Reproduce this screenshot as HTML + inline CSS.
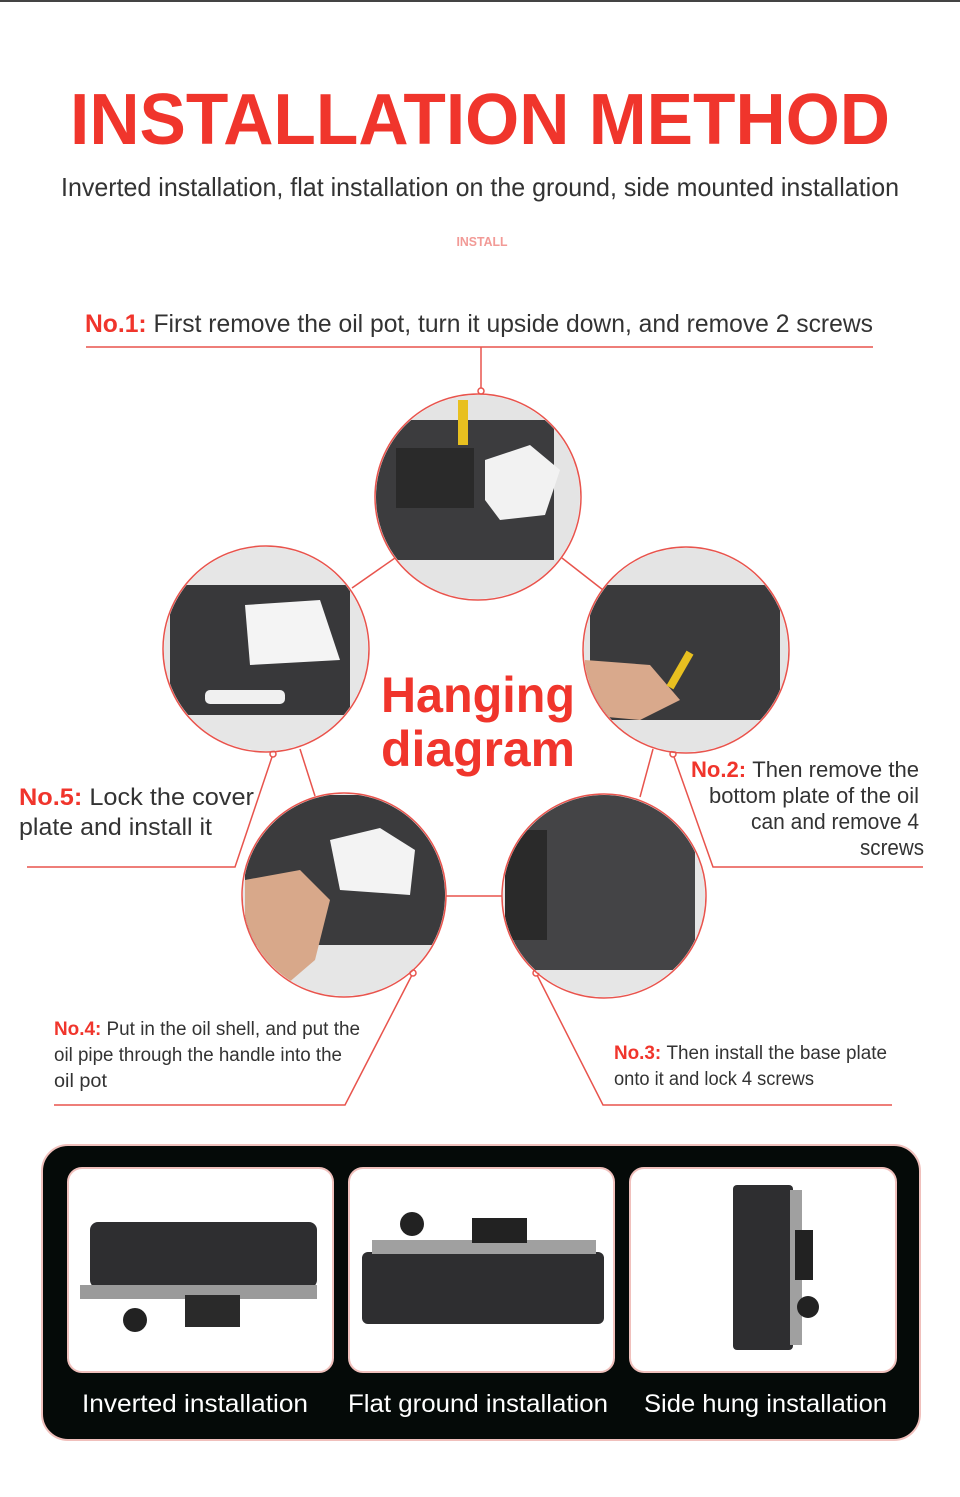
<!DOCTYPE html>
<html><head><meta charset="utf-8"><style>
html,body{margin:0;padding:0;background:#fff;}
svg{display:block;}
text{font-family:"Liberation Sans Narrow","Liberation Sans",sans-serif;}
</style></head><body>
<svg width="960" height="1497" viewBox="0 0 960 1497" xmlns="http://www.w3.org/2000/svg">
<defs>
<clipPath id="c1"><circle cx="478" cy="497" r="102"/></clipPath>
<clipPath id="c2"><circle cx="266" cy="649" r="102"/></clipPath>
<clipPath id="c3"><circle cx="686" cy="650" r="102"/></clipPath>
<clipPath id="c4"><circle cx="344" cy="895" r="101"/></clipPath>
<clipPath id="c5"><circle cx="604" cy="896" r="101"/></clipPath>
</defs>
<rect x="0" y="0" width="960" height="2" fill="#444"/>
<text x="480" y="144" text-anchor="middle" font-size="72" font-weight="bold" fill="#f0352c" textLength="820" lengthAdjust="spacingAndGlyphs">INSTALLATION METHOD</text>
<text x="480" y="196" text-anchor="middle" font-size="26" fill="#333" textLength="838" lengthAdjust="spacingAndGlyphs">Inverted installation, flat installation on the ground, side mounted installation</text>
<text x="482" y="246" text-anchor="middle" font-size="13" font-weight="bold" fill="#f29a96" textLength="51" lengthAdjust="spacingAndGlyphs">INSTALL</text>
<text x="85" y="332" font-size="25" fill="#333" textLength="788" lengthAdjust="spacingAndGlyphs"><tspan fill="#f0352c" font-weight="bold">No.1: </tspan>First remove the oil pot, turn it upside down, and remove 2 screws</text>
<g stroke="#e8544d" stroke-width="1.5" fill="none">
<line x1="86" y1="347" x2="873" y2="347"/>
<line x1="481" y1="347" x2="481" y2="391"/>
<line x1="395" y1="558" x2="352" y2="588"/>
<line x1="562" y1="558" x2="603" y2="590"/>
<line x1="300" y1="749" x2="315" y2="796"/>
<line x1="653" y1="749" x2="640" y2="797"/>
<line x1="446" y1="896" x2="502" y2="896"/>
<polyline points="27,867 235,867 273,754"/>
<polyline points="673,754 713,867 923,867"/>
<polyline points="413,973 345,1105 54,1105"/>
<polyline points="536,973 603,1105 892,1105"/>
</g>
<g fill="#fff" stroke="#e8544d" stroke-width="1.5">
<circle cx="481" cy="391" r="3"/><circle cx="273" cy="754" r="3"/><circle cx="673" cy="754" r="3"/><circle cx="413" cy="973" r="3"/><circle cx="536" cy="973" r="3"/>
</g>
<!-- circle photos -->
<g clip-path="url(#c1)"><rect x="370" y="390" width="220" height="220" fill="#e4e4e4"/><rect x="376" y="420" width="178" height="140" fill="#3c3c3e"/><rect x="396" y="448" width="78" height="60" fill="#2a2a2a"/><path d="M485 460 L530 445 L560 470 L545 515 L500 520 L485 500Z" fill="#f2f2f2"/><rect x="458" y="400" width="10" height="45" fill="#e8c020"/></g>
<circle cx="478" cy="497" r="103" fill="none" stroke="#e8544d" stroke-width="1.5"/>
<g clip-path="url(#c2)"><rect x="160" y="540" width="215" height="220" fill="#e6e6e6"/><rect x="170" y="585" width="180" height="130" fill="#38383a"/><path d="M245 605 L320 600 L340 660 L250 665Z" fill="#f4f4f4"/><rect x="205" y="690" width="80" height="14" rx="5" fill="#f0f0f0"/></g>
<circle cx="266" cy="649" r="103" fill="none" stroke="#e8544d" stroke-width="1.5"/>
<g clip-path="url(#c3)"><rect x="580" y="545" width="215" height="215" fill="#e4e4e4"/><rect x="590" y="585" width="190" height="135" fill="#3a3a3c"/><path d="M585 660 L650 665 L680 700 L640 720 L585 715Z" fill="#d9a98c"/><rect x="676" y="650" width="8" height="40" fill="#e8c020" transform="rotate(30 680 670)"/></g>
<circle cx="686" cy="650" r="103" fill="none" stroke="#e8544d" stroke-width="1.5"/>
<g clip-path="url(#c4)"><rect x="240" y="790" width="210" height="210" fill="#e6e6e6"/><rect x="245" y="795" width="200" height="150" fill="#3b3b3d"/><path d="M330 840 L380 828 L415 850 L410 895 L340 890Z" fill="#f3f3f3"/><path d="M245 880 L300 870 L330 900 L315 960 L280 990 L245 970Z" fill="#d8a88a"/></g>
<circle cx="344" cy="895" r="102" fill="none" stroke="#e8544d" stroke-width="1.5"/>
<g clip-path="url(#c5)"><rect x="500" y="790" width="210" height="210" fill="#e6e6e6"/><rect x="505" y="795" width="190" height="175" fill="#444446"/><rect x="505" y="830" width="42" height="110" fill="#2a2a2a"/></g>
<circle cx="604" cy="896" r="102" fill="none" stroke="#e8544d" stroke-width="1.5"/>
<text x="478" y="712" text-anchor="middle" font-size="50" font-weight="bold" fill="#f0352c" textLength="194" lengthAdjust="spacingAndGlyphs">Hanging</text>
<text x="478" y="766" text-anchor="middle" font-size="50" font-weight="bold" fill="#f0352c" textLength="194" lengthAdjust="spacingAndGlyphs">diagram</text>
<g font-size="24" fill="#333">
<text x="19" y="805" textLength="235" lengthAdjust="spacingAndGlyphs"><tspan fill="#f0352c" font-weight="bold">No.5: </tspan>Lock the cover</text>
<text x="19" y="835" textLength="193" lengthAdjust="spacingAndGlyphs">plate and install it</text>
<text x="919" y="777" text-anchor="end" font-size="22" textLength="228" lengthAdjust="spacingAndGlyphs"><tspan fill="#f0352c" font-weight="bold">No.2: </tspan>Then remove the</text>
<text x="919" y="803" text-anchor="end" font-size="22" textLength="210" lengthAdjust="spacingAndGlyphs">bottom plate of the oil</text>
<text x="919" y="829" text-anchor="end" font-size="22" textLength="168" lengthAdjust="spacingAndGlyphs">can and remove 4</text>
<text x="924" y="855" text-anchor="end" font-size="22" textLength="64" lengthAdjust="spacingAndGlyphs">screws</text>
<text x="54" y="1035" font-size="19" textLength="306" lengthAdjust="spacingAndGlyphs"><tspan fill="#f0352c" font-weight="bold">No.4: </tspan>Put in the oil shell, and put the</text>
<text x="54" y="1061" font-size="19" textLength="288" lengthAdjust="spacingAndGlyphs">oil pipe through the handle into the</text>
<text x="54" y="1087" font-size="19" textLength="53" lengthAdjust="spacingAndGlyphs">oil pot</text>
<text x="614" y="1059" font-size="19" textLength="273" lengthAdjust="spacingAndGlyphs"><tspan fill="#f0352c" font-weight="bold">No.3: </tspan>Then install the base plate</text>
<text x="614" y="1085" font-size="19" textLength="200" lengthAdjust="spacingAndGlyphs">onto it and lock 4 screws</text>
</g>
<!-- bottom panel -->
<rect x="42" y="1145" width="878" height="295" rx="26" fill="#050a08" stroke="#f0c0bc" stroke-width="2"/>
<g fill="#fff" stroke="#f0c0bc" stroke-width="2">
<rect x="68" y="1168" width="265" height="204" rx="14"/>
<rect x="349" y="1168" width="265" height="204" rx="14"/>
<rect x="630" y="1168" width="266" height="204" rx="14"/>
</g>
<rect x="90" y="1222" width="227" height="66" rx="8" fill="#2e2e30"/>
<rect x="80" y="1285" width="237" height="14" fill="#9a9a9a"/>
<rect x="185" y="1295" width="55" height="32" fill="#2a2a2a"/>
<circle cx="135" cy="1320" r="12" fill="#222"/>
<rect x="362" y="1252" width="242" height="72" rx="6" fill="#2e2e30"/>
<rect x="372" y="1240" width="224" height="14" fill="#a0a0a0"/>
<rect x="472" y="1218" width="55" height="25" fill="#222"/>
<circle cx="412" cy="1224" r="12" fill="#222"/>
<rect x="733" y="1185" width="60" height="165" rx="4" fill="#2e2e30"/>
<rect x="790" y="1190" width="12" height="155" fill="#a0a0a0"/>
<rect x="795" y="1230" width="18" height="50" fill="#222"/>
<circle cx="808" cy="1307" r="11" fill="#222"/>
<g font-size="25" fill="#fff">
<text x="82" y="1412" textLength="226" lengthAdjust="spacingAndGlyphs">Inverted installation</text>
<text x="348" y="1412" textLength="260" lengthAdjust="spacingAndGlyphs">Flat ground installation</text>
<text x="644" y="1412" textLength="243" lengthAdjust="spacingAndGlyphs">Side hung installation</text>
</g>
</svg>
</body></html>
